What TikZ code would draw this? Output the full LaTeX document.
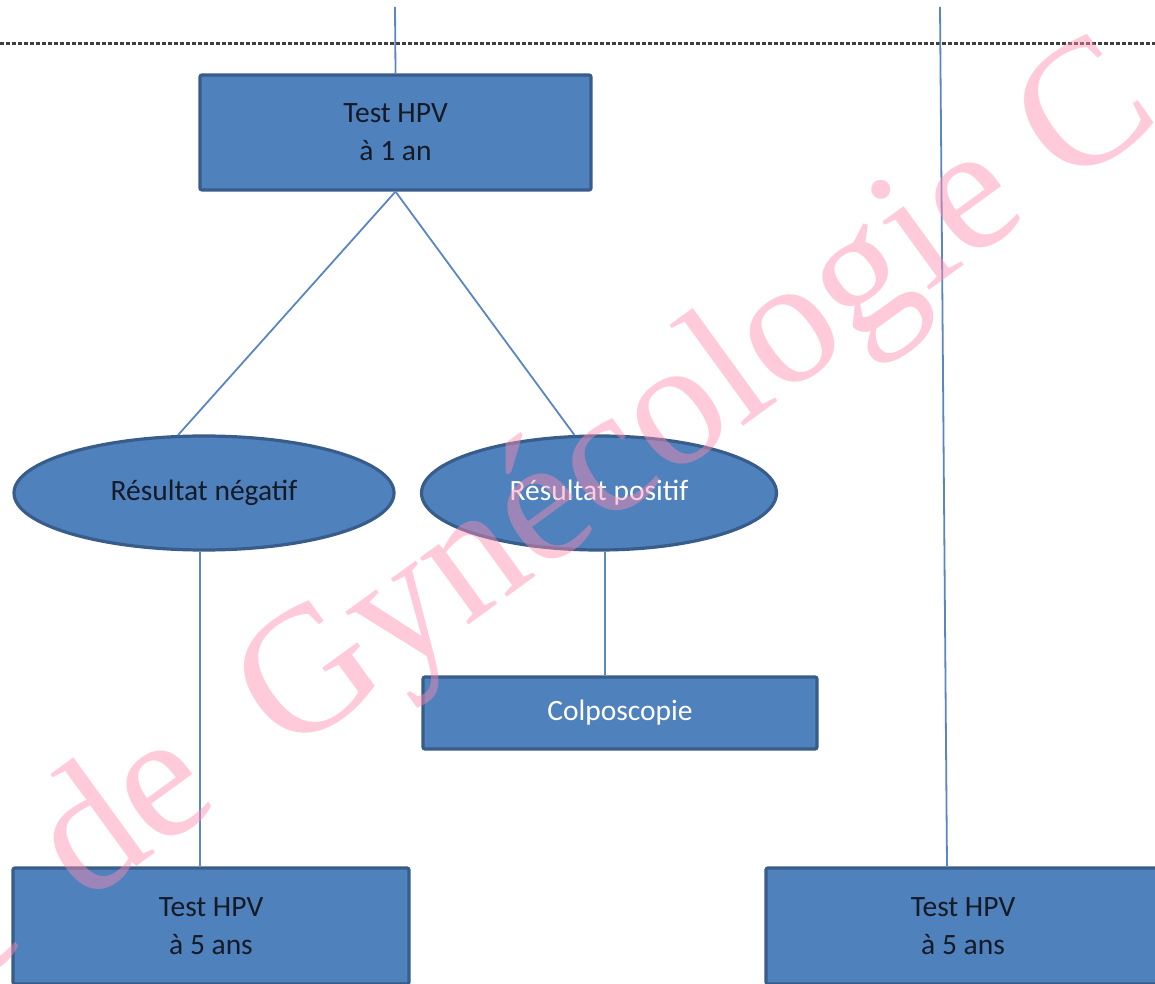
\documentclass[tikz,border=0pt]{standalone}
\usepackage{fontspec}
\setmainfont{Carlito}
\newfontfamily\wmfont{Liberation Serif}
\usetikzlibrary{shapes.geometric,calc}
\definecolor{boxblue}{HTML}{4F81BD}
\definecolor{boxedge}{HTML}{385D8A}
\definecolor{linkblue}{HTML}{5A86C2}
\definecolor{txtdark}{HTML}{141A26}
\definecolor{wmpink}{HTML}{FF8CB0}
\tikzset{
  x=1pt,y=1pt,
  boxnode/.style={rectangle, fill=boxblue, draw=boxedge, line width=3.2pt, rounded corners=2pt,
    align=center, font=\fontsize{29.5}{38}\selectfont, text=txtdark, inner sep=0pt},
  ovalnode/.style={ellipse, fill=boxblue, draw=boxedge, line width=3.2pt,
    font=\fontsize{29.5}{38}\selectfont, text=txtdark, inner sep=0pt},
  link/.style={draw=linkblue, line width=1.8pt},
  sepline/.style={draw=black!75, line width=3pt, dash pattern=on 4pt off 2pt},
}
\begin{document}
\begin{tikzpicture}
\useasboundingbox (0,0) rectangle (1155,983);
\clip (0,0) rectangle (1155,983);
\fill[white] (0,0) rectangle (1155,983);
% separator
\coordinate (sepL) at (0,939);
\coordinate (sepR) at (1155,939);
\draw[sepline] (sepL) -- (sepR);
% nodes
\node[boxnode, minimum width=391, minimum height=115] (top) at (395.5,850.5) {Test HPV\\à 1 an};
\node[ovalnode, minimum width=380, minimum height=114] (neg) at (204,490) {Résultat négatif};
\node[ovalnode, minimum width=355, minimum height=114, text=white] (pos) at (599,490) {Résultat positif};
\node[boxnode, minimum width=394, minimum height=72, text=white] (colpo) at (620,270) {Colposcopie};
\node[boxnode, minimum width=396, minimum height=116] (bl) at (211,57) {Test HPV\\à 5 ans};
\node[boxnode, minimum width=394, minimum height=116] (br) at (963,57) {Test HPV\\à 5 ans};
% free ends at the top
\coordinate (ttop) at (395,976);
\coordinate (rtop) at (940,976);
% connectors
\draw[link] (ttop) -- (top.north);
\draw[link] (top.south) -- (neg.114);
\draw[link] (top.south) -- (pos.113);
\draw[link] ([xshift=-4pt]neg.south) -- ([xshift=-4pt]neg.south |- bl.north);
\draw[link] ([xshift=6pt]pos.south) -- ([xshift=6pt]pos.south |- colpo.north);
\draw[link] (rtop) -- ($(br.north)+(-16,0)$);
% watermark
\node[anchor=base west, rotate=36, inner sep=0pt, text=wmpink, opacity=0.45,
  font=\wmfont\fontsize{180}{180}\selectfont] (wm) at (-35.8,-8.9) {e\hspace{0.13em} de\hspace{0.2em} Gynécologie C};
\end{tikzpicture}
\end{document}
